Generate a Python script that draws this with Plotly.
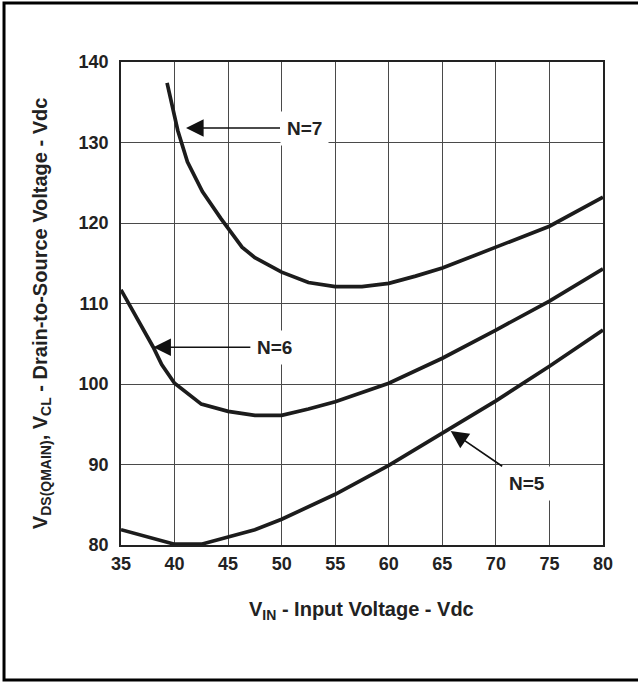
import plotly.graph_objects as go

# ---- data ----
n7_x = [39.3, 40.3, 41.2, 42.6, 44.3, 46.3, 47.5, 50, 52.5, 55, 57.5, 60, 62.5, 65, 70, 75, 80]
n7_y = [137.4, 131.5, 127.6, 123.9, 120.6, 117.0, 115.7, 113.9, 112.6, 112.1, 112.1, 112.5, 113.4, 114.4, 117.0, 119.6, 123.2]

n6_x = [35, 36.5, 38.0, 38.8, 40.0, 42.5, 45, 47.5, 50, 52.5, 55, 60, 65, 70, 75, 80]
n6_y = [111.7, 108.2, 104.6, 102.4, 100.1, 97.5, 96.6, 96.1, 96.1, 96.9, 97.8, 100.1, 103.2, 106.7, 110.3, 114.3]

n5_x = [35, 40, 42.5, 45, 47.5, 50, 55, 60, 65, 70, 75, 80]
n5_y = [81.9, 80.1, 80.1, 81.0, 81.9, 83.2, 86.3, 89.9, 93.9, 97.9, 102.2, 106.7]

x_ticks = [35, 40, 45, 50, 55, 60, 65, 70, 75, 80]
y_ticks = [80, 90, 100, 110, 120, 130, 140]

labels = ["N=7", "N=6", "N=5"]
label_tip_x = [41.07, 38.02, 65.78]
label_tip_y = [131.8, 104.56, 94.16]

FONT = "Liberation Sans, Arial, Helvetica, sans-serif"
LINE_COLOR = "#1c1c1c"

fig = go.Figure()
for xs, ys in [(n7_x, n7_y), (n6_x, n6_y), (n5_x, n5_y)]:
    fig.add_trace(go.Scatter(x=xs, y=ys, mode="lines",
                             line=dict(color=LINE_COLOR, width=3.7),
                             showlegend=False, hoverinfo="skip"))

axis_common = dict(
    showgrid=True, gridcolor="#4a4a4a", gridwidth=1,
    showline=True, linecolor="#222", linewidth=1.5, mirror=True,
    zeroline=False, ticks="",
    tickfont=dict(family=FONT, size=18, color="#222", weight="bold"),
)

fig.update_xaxes(range=[35, 80], tickvals=x_ticks, ticklabelstandoff=2, **axis_common)
fig.update_yaxes(range=[80, 140], tickvals=y_ticks, ticklabelstandoff=7, **axis_common)

offsets = [(118, 0), (121, 0), (76, 52)]
for txt, tx, ty, (ax, ay) in zip(labels, label_tip_x, label_tip_y, offsets):
    fig.add_annotation(x=tx, y=ty, xref="x", yref="y", text=txt,
                       showarrow=True, ax=ax, ay=ay, axref="pixel", ayref="pixel",
                       arrowhead=2, arrowsize=2.2, arrowwidth=1.6, arrowcolor="#111",
                       bgcolor="white", borderpad=6,
                       font=dict(family=FONT, size=19, color="#222", weight="bold"))

# axis titles
fig.add_annotation(xref="paper", yref="paper", x=0.498, y=-0.1366,
                   text="V<sub>IN</sub> - Input Voltage - Vdc", showarrow=False,
                   xanchor="center", yanchor="middle",
                   font=dict(family=FONT, size=20, color="#222", weight="bold"))
fig.add_annotation(xref="paper", yref="paper", x=-0.166, y=0.48,
                   text="V<sub>DS(QMAIN)</sub>, V<sub>CL</sub> - Drain-to-Source Voltage - Vdc",
                   showarrow=False, textangle=-90,
                   xanchor="center", yanchor="middle",
                   font=dict(family=FONT, size=20, color="#222", weight="bold"))

# outer frame
fig.add_shape(type="rect", xref="paper", yref="paper",
              x0=-0.2427, x1=1.087, y0=-0.2795, y1=1.1222,
              line=dict(color="black", width=3), fillcolor="rgba(0,0,0,0)", layer="above")

fig.update_layout(
    width=638, height=682, autosize=False,
    margin=dict(l=121, r=35, t=62, b=137, pad=0),
    paper_bgcolor="white", plot_bgcolor="white",
    showlegend=False,
)

fig.write_html("out.html")
